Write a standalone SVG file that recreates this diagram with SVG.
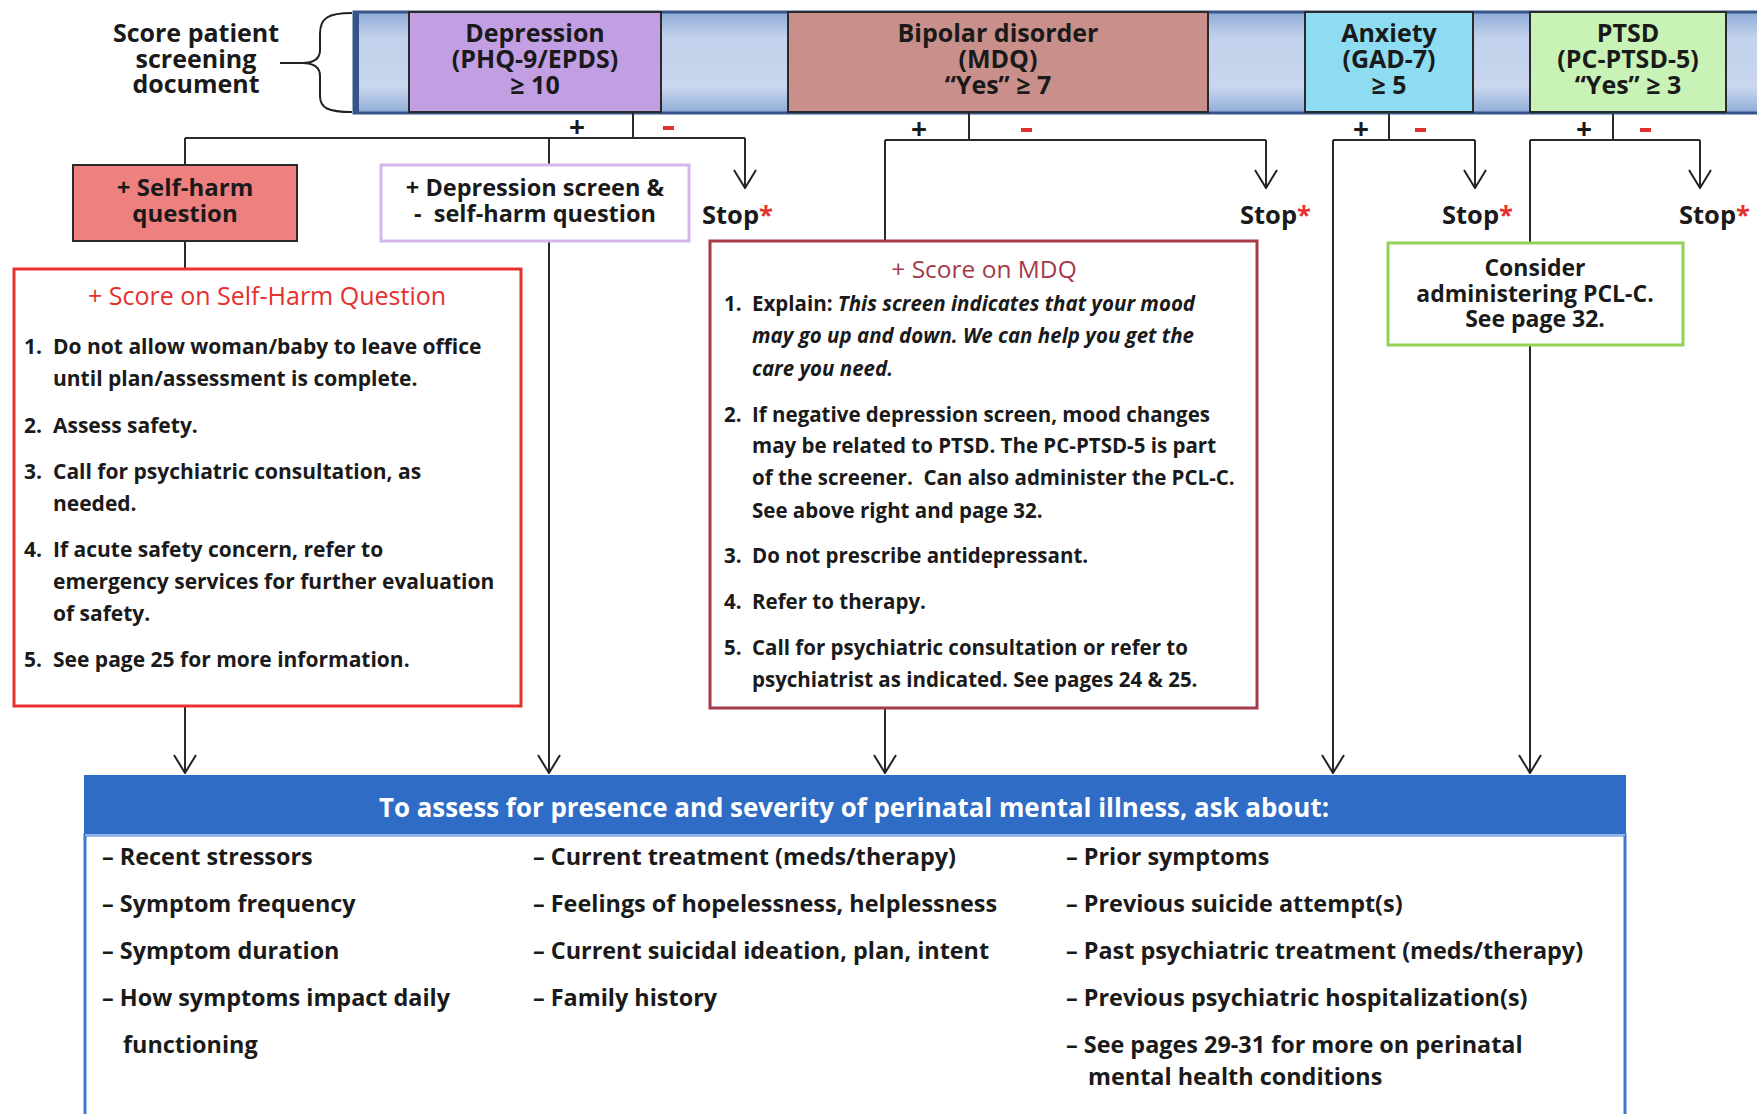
<svg xmlns="http://www.w3.org/2000/svg" width="1757" height="1114" viewBox="0 0 1757 1114">
<defs>
<linearGradient id="barg" x1="0" y1="0" x2="0" y2="1">
<stop offset="0" stop-color="#8eaad6"/>
<stop offset="0.25" stop-color="#c2d2ec"/>
<stop offset="0.75" stop-color="#c8d6ee"/>
<stop offset="1" stop-color="#8eaad6"/>
</linearGradient>
<marker id="arr" viewBox="0 0 20 24" refX="19" refY="12" markerWidth="20" markerHeight="24" markerUnits="userSpaceOnUse" orient="auto">
<path d="M1 1 L19 12 L1 23" fill="none" stroke="#222" stroke-width="2"/>
</marker>
</defs>
<style>
text{font-family:'Open Sans','Liberation Sans',sans-serif;fill:#1a1a1a}
.b{font-weight:bold}
.hd{font-size:25px;font-weight:bold;text-anchor:middle}
.it{font-size:21px;font-weight:bold}
.mq{font-size:20.5px;font-weight:bold}
.bt{font-size:23.4px;font-weight:bold}
.red{fill:#e53030}
.con{fill:none;stroke:#2a2a2a;stroke-width:2}
.stop{font-size:25.5px;font-weight:bold}
.pl{font-size:28px;font-weight:bold;text-anchor:middle}
</style>
<rect width="1757" height="1114" fill="#ffffff"/>

<g id="header-label">
<text class="hd" x="196" y="42">Score patient</text>
<text class="hd" x="196" y="68">screening</text>
<text class="hd" x="196" y="93">document</text>
<path d="M280 63 L302 63 M352 13 C328 13 320 18 320 34 L320 50 C320 58 314 63 302 63 C314 63 320 68 320 76 L320 96 C320 108 328 112 352 112" fill="none" stroke="#222" stroke-width="2"/>
</g>

<g id="screen-bar">
<rect x="354" y="12" width="1410" height="101" fill="url(#barg)" stroke="#34548a" stroke-width="3"/>
<rect x="354" y="12" width="5" height="101" fill="#34548a"/>
</g>

<g id="depression">
<rect x="409" y="12" width="252" height="100" fill="#c19fe2" stroke="#2a2a2a" stroke-width="2"/>
<text class="hd" x="535" y="42">Depression</text>
<text class="hd" x="535" y="68">(PHQ-9/EPDS)</text>
<text class="hd" x="535" y="94">≥ 10</text>
</g>
<g id="bipolar">
<rect x="788" y="12" width="420" height="100" fill="#c98f8b" stroke="#2a2a2a" stroke-width="2"/>
<text class="hd" x="998" y="42">Bipolar disorder</text>
<text class="hd" x="998" y="68">(MDQ)</text>
<text class="hd" x="998" y="94">“Yes” ≥ 7</text>
</g>
<g id="anxiety">
<rect x="1305" y="12" width="168" height="100" fill="#8edcf2" stroke="#2a2a2a" stroke-width="2"/>
<text class="hd" x="1389" y="42">Anxiety</text>
<text class="hd" x="1389" y="68">(GAD-7)</text>
<text class="hd" x="1389" y="94">≥ 5</text>
</g>
<g id="ptsd">
<rect x="1530" y="12" width="196" height="100" fill="#c8f2b6" stroke="#2a2a2a" stroke-width="2"/>
<text class="hd" x="1628" y="42">PTSD</text>
<text class="hd" x="1628" y="68">(PC-PTSD-5)</text>
<text class="hd" x="1628" y="94">“Yes” ≥ 3</text>
</g>

<g id="connectors">
<path class="con" d="M633 113 L633 138 M185 138 L745 138"/>
<path class="con" d="M745 138 L745 188" marker-end="url(#arr)"/>
<path class="con" d="M185 138 L185 165 M549 138 L549 165 M185 241 L185 269"/>
<path class="con" d="M185 706 L185 773" marker-end="url(#arr)"/>
<path class="con" d="M549 241 L549 773" marker-end="url(#arr)"/>
<path class="con" d="M969 113 L969 140 M885 140 L1266 140 M885 140 L885 241"/>
<path class="con" d="M1266 140 L1266 188" marker-end="url(#arr)"/>
<path class="con" d="M885 708 L885 773" marker-end="url(#arr)"/>
<path class="con" d="M1389 114 L1389 140 M1333 140 L1475 140"/>
<path class="con" d="M1475 140 L1475 188" marker-end="url(#arr)"/>
<path class="con" d="M1333 140 L1333 773" marker-end="url(#arr)"/>
<path class="con" d="M1613 114 L1613 140 M1530 140 L1700 140 M1530 140 L1530 243"/>
<path class="con" d="M1700 140 L1700 188" marker-end="url(#arr)"/>
<path class="con" d="M1530 345 L1530 773" marker-end="url(#arr)"/>
<text class="pl" x="577" y="137">+</text>
<rect x="663" y="126" width="11" height="4" fill="#e53030"/>
<text class="pl" x="919" y="139">+</text>
<rect x="1021" y="128" width="11" height="4" fill="#e53030"/>
<text class="pl" x="1361" y="139">+</text>
<rect x="1415" y="128" width="11" height="4" fill="#e53030"/>
<text class="pl" x="1584" y="139">+</text>
<rect x="1640" y="128" width="11" height="4" fill="#e53030"/>
</g>

<g id="stop1"><text class="stop" x="702" y="224">Stop<tspan class="red">*</tspan></text></g>
<g id="stop2"><text class="stop" x="1240" y="224">Stop<tspan class="red">*</tspan></text></g>
<g id="stop3"><text class="stop" x="1442" y="224">Stop<tspan class="red">*</tspan></text></g>
<g id="stop4"><text class="stop" x="1679" y="224">Stop<tspan class="red">*</tspan></text></g>

<g id="self-harm">
<rect x="73" y="165" width="224" height="76" fill="#ef8080" stroke="#2a2a2a" stroke-width="2"/>
<text class="hd" x="185" y="196" style="font-size:24px">+ Self-harm</text>
<text class="hd" x="185" y="222" style="font-size:24px">question</text>
</g>

<g id="dep-screen">
<rect x="381" y="165" width="308" height="76" fill="#ffffff" stroke="#d4b6ec" stroke-width="3"/>
<text class="hd" x="535" y="196" style="font-size:23.5px">+ Depression screen &amp;</text>
<text class="hd" x="535" y="222" style="font-size:23.5px">-&#160; self-harm question</text>
</g>

<g id="self-harm-actions">
<rect x="14" y="269" width="507" height="437" fill="#ffffff" stroke="#e8312f" stroke-width="3"/>
<text x="267" y="305" font-size="25" text-anchor="middle" class="red">+ Score on Self-Harm Question</text>
<text class="it" x="24" y="354">1.</text><text class="it" x="53" y="354">Do not allow woman/baby to leave office</text>
<text class="it" x="53" y="386">until plan/assessment is complete.</text>
<text class="it" x="24" y="433">2.</text><text class="it" x="53" y="433">Assess safety.</text>
<text class="it" x="24" y="479">3.</text><text class="it" x="53" y="479">Call for psychiatric consultation, as</text>
<text class="it" x="53" y="511">needed.</text>
<text class="it" x="24" y="557">4.</text><text class="it" x="53" y="557">If acute safety concern, refer to</text>
<text class="it" x="53" y="589">emergency services for further evaluation</text>
<text class="it" x="53" y="621">of safety.</text>
<text class="it" x="24" y="667">5.</text><text class="it" x="53" y="667">See page 25 for more information.</text>
</g>

<g id="mdq-actions">
<rect x="710" y="241" width="547" height="467" fill="#ffffff" stroke="#a53a48" stroke-width="3"/>
<text x="984" y="278" font-size="24.5" text-anchor="middle" style="fill:#a53a48">+ Score on MDQ</text>
<text class="mq" x="724" y="311">1.</text><text class="mq" x="752" y="311">Explain: <tspan font-style="italic">This screen indicates that your mood</tspan></text>
<text class="mq" x="752" y="343" font-style="italic">may go up and down. We can help you get the</text>
<text class="mq" x="752" y="376" font-style="italic">care you need.</text>
<text class="mq" x="724" y="422">2.</text><text class="mq" x="752" y="422">If negative depression screen, mood changes</text>
<text class="mq" x="752" y="453">may be related to PTSD. The PC-PTSD-5 is part</text>
<text class="mq" x="752" y="485">of the screener.&#160; Can also administer the PCL-C.</text>
<text class="mq" x="752" y="518">See above right and page 32.</text>
<text class="mq" x="724" y="563">3.</text><text class="mq" x="752" y="563">Do not prescribe antidepressant.</text>
<text class="mq" x="724" y="609">4.</text><text class="mq" x="752" y="609">Refer to therapy.</text>
<text class="mq" x="724" y="655">5.</text><text class="mq" x="752" y="655">Call for psychiatric consultation or refer to</text>
<text class="mq" x="752" y="687">psychiatrist as indicated. See pages 24 &amp; 25.</text>
</g>

<g id="consider-pclc">
<rect x="1388" y="243" width="295" height="102" fill="#ffffff" stroke="#94d055" stroke-width="3"/>
<text class="b" x="1535" y="276" font-size="23" text-anchor="middle">Consider</text>
<text class="b" x="1535" y="302" font-size="23" text-anchor="middle">administering PCL-C.</text>
<text class="b" x="1535" y="327" font-size="23" text-anchor="middle">See page 32.</text>
</g>

<g id="assess">
<rect x="85" y="835" width="1540" height="300" fill="#ffffff" stroke="#3a78d0" stroke-width="3"/>
<rect x="84" y="775" width="1542" height="60" fill="#2f6cc5"/>
<line x1="85" y1="835" x2="1625" y2="835" stroke="#8fb4e8" stroke-width="2"/>
<text x="854" y="817" font-size="25.9" font-weight="bold" text-anchor="middle" style="fill:#ffffff">To assess for presence and severity of perinatal mental illness, ask about:</text>
<text class="bt" x="102" y="865">– Recent stressors</text>
<text class="bt" x="102" y="912">– Symptom frequency</text>
<text class="bt" x="102" y="959">– Symptom duration</text>
<text class="bt" x="102" y="1006">– How symptoms impact daily</text>
<text class="bt" x="123" y="1053">functioning</text>
<text class="bt" x="533" y="865">– Current treatment (meds/therapy)</text>
<text class="bt" x="533" y="912">– Feelings of hopelessness, helplessness</text>
<text class="bt" x="533" y="959">– Current suicidal ideation, plan, intent</text>
<text class="bt" x="533" y="1006">– Family history</text>
<text class="bt" x="1066" y="865">– Prior symptoms</text>
<text class="bt" x="1066" y="912">– Previous suicide attempt(s)</text>
<text class="bt" x="1066" y="959">– Past psychiatric treatment (meds/therapy)</text>
<text class="bt" x="1066" y="1006">– Previous psychiatric hospitalization(s)</text>
<text class="bt" x="1066" y="1053">– See pages 29-31 for more on perinatal</text>
<text class="bt" x="1088" y="1085">mental health conditions</text>
</g>
</svg>
